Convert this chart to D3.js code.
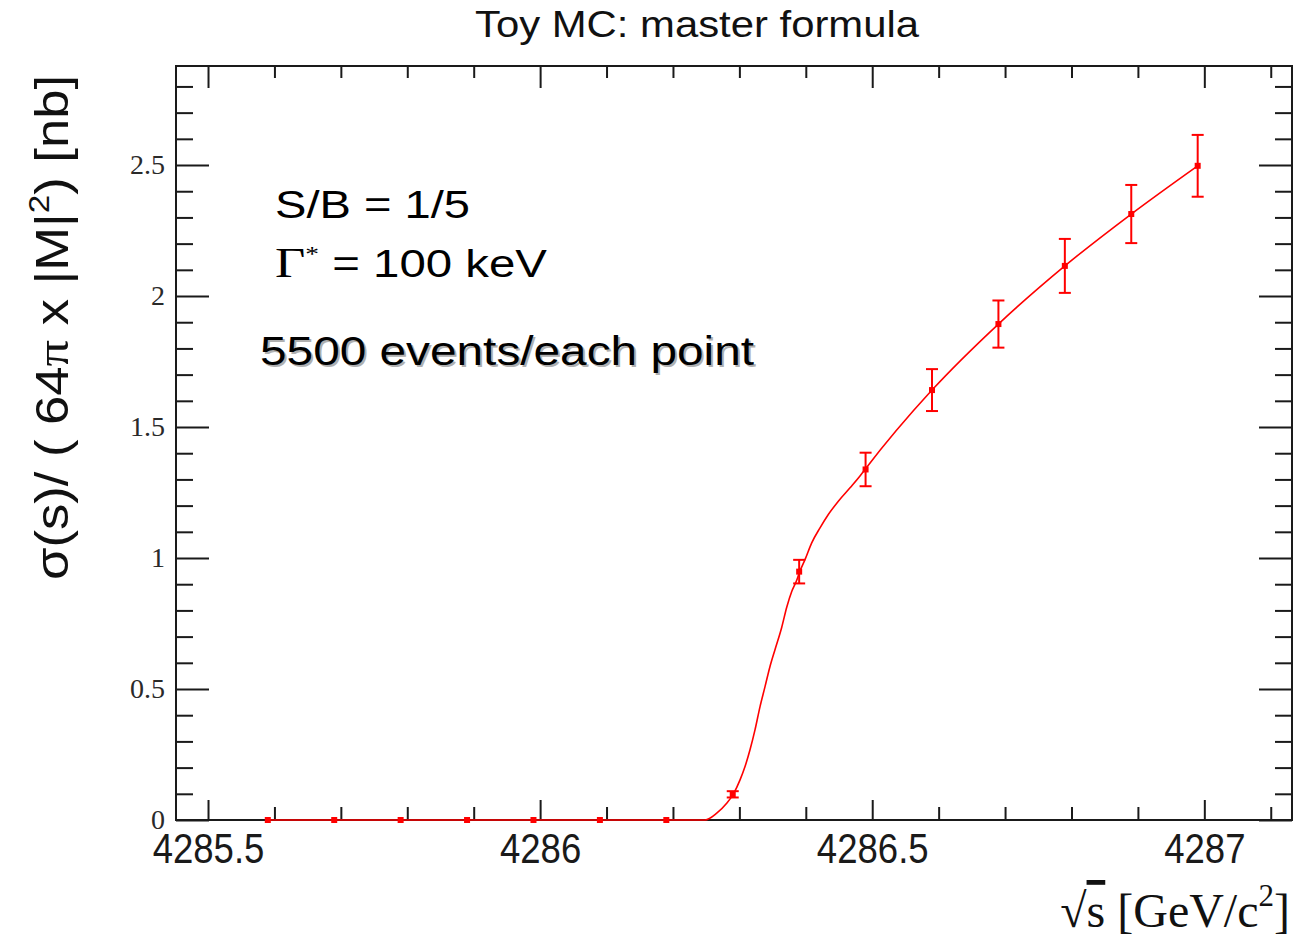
<!DOCTYPE html>
<html><head><meta charset="utf-8">
<script src="https://cdn.jsdelivr.net/npm/d3@7"></script>
<style>body{margin:0;background:#fff}</style>
</head><body>
<svg id="c" width="1297" height="939"></svg>
<script>
// ---- data ----
const energies = [4285.59, 4285.69, 4285.79, 4285.89, 4285.99, 4286.09, 4286.19, 4286.29, 4286.39, 4286.49, 4286.59, 4286.69, 4286.79, 4286.89, 4286.99];
const sigma    = [0, 0, 0, 0, 0, 0, 0, 0.098, 0.948, 1.338, 1.641, 1.893, 2.115, 2.313, 2.497];
const sigmaErr = [0, 0, 0, 0, 0, 0, 0, 0.012, 0.045, 0.064, 0.080, 0.090, 0.103, 0.111, 0.118];
// model curve
const curveE = [4285.59, 4286.215, 4286.2483, 4286.2659, 4286.2809, 4286.2909, 4286.3010, 4286.3085, 4286.3160, 4286.3235, 4286.3311, 4286.3386, 4286.3461, 4286.3536, 4286.3637, 4286.3713, 4286.3788, 4286.3863, 4286.3902, 4286.3988, 4286.4089, 4286.4214, 4286.4339, 4286.4490, 4286.4666, 4286.4816, 4286.4891, 4286.59, 4286.69, 4286.79, 4286.89, 4286.99];
const curveS = [0, 0, 0, 0.026, 0.064, 0.099, 0.153, 0.204, 0.268, 0.344, 0.433, 0.509, 0.586, 0.650, 0.735, 0.812, 0.872, 0.915, 0.944, 0.994, 1.058, 1.115, 1.166, 1.217, 1.268, 1.313, 1.338, 1.641, 1.893, 2.115, 2.313, 2.497];
const xMajorTicks = [4285.5, 4286, 4286.5, 4287];
const xTickLabels = ["4285.5", "4286", "4286.5", "4287"];
const xMinorTicks = [4285.6,4285.7,4285.8,4285.9,4286.1,4286.2,4286.3,4286.4,4286.6,4286.7,4286.8,4286.9,4287.1];
const yMajorTicks = [0, 0.5, 1, 1.5, 2, 2.5];
const yTickLabels = ["0", "0.5", "1", "1.5", "2", "2.5"];
const yMinorTicks = [0.1,0.2,0.3,0.4,0.6,0.7,0.8,0.9,1.1,1.2,1.3,1.4,1.6,1.7,1.8,1.9,2.1,2.2,2.3,2.4,2.6,2.7,2.8];
const xDomain = [4285.4518, 4287.132];
const yDomain = [0, 2.878];

// ---- layout ----
const L = 176, R = 1292, T = 66, B = 820;
const svg = d3.select("#c");
const x = d3.scaleLinear().domain(xDomain).range([L, R]);
const y = d3.scaleLinear().domain(yDomain).range([B, T]);
const axisColor = "#1a1a1a";

function styleAxis(g){
  g.select(".domain").remove();
  g.selectAll("line").attr("stroke", axisColor).attr("stroke-width", 2);
}
// bottom
svg.append("g").attr("transform",`translate(0,${B})`)
  .call(d3.axisBottom(x).tickValues(xMajorTicks).tickSize(-20).tickFormat((d,i)=>xTickLabels[i]).tickPadding(0))
  .call(styleAxis)
  .call(g=>g.selectAll("text").attr("font-family","'Liberation Sans',Arial,sans-serif").attr("font-size",42)
     .attr("fill","#1a1a1a").attr("dy",null).attr("y",0).attr("transform","translate(0,43) scale(0.87,1)"));
svg.append("g").attr("transform",`translate(0,${B})`)
  .call(d3.axisBottom(x).tickValues(xMinorTicks).tickSize(-13).tickFormat(""))
  .call(styleAxis);
// top
svg.append("g").attr("transform",`translate(0,${T})`)
  .call(d3.axisTop(x).tickValues(xMajorTicks).tickSize(-22).tickFormat(""))
  .call(styleAxis);
svg.append("g").attr("transform",`translate(0,${T})`)
  .call(d3.axisTop(x).tickValues(xMinorTicks).tickSize(-12).tickFormat(""))
  .call(styleAxis);
// left
svg.append("g").attr("transform",`translate(${L},0)`)
  .call(d3.axisLeft(y).tickValues(yMajorTicks).tickSize(-33).tickFormat((d,i)=>yTickLabels[i]).tickPadding(0))
  .call(styleAxis)
  .call(g=>g.selectAll("text").attr("font-family","'Liberation Serif','Times New Roman',serif").attr("font-size",28).attr("fill","#2a2a2a").attr("x",-11).attr("dy","0.3em"));
svg.append("g").attr("transform",`translate(${L},0)`)
  .call(d3.axisLeft(y).tickValues(yMinorTicks).tickSize(-17).tickFormat(""))
  .call(styleAxis);
// right
svg.append("g").attr("transform",`translate(${R},0)`)
  .call(d3.axisRight(y).tickValues(yMajorTicks).tickSize(-33).tickFormat(""))
  .call(styleAxis);
svg.append("g").attr("transform",`translate(${R},0)`)
  .call(d3.axisRight(y).tickValues(yMinorTicks).tickSize(-17).tickFormat(""))
  .call(styleAxis);
// frame
svg.append("rect").attr("x",L).attr("y",T).attr("width",R-L).attr("height",B-T)
  .attr("fill","none").attr("stroke",axisColor).attr("stroke-width",2);

// ---- curve ----
svg.append("clipPath").attr("id","clip").append("rect").attr("x",L).attr("y",T).attr("width",R-L).attr("height",B-T+2);
const curvePts = curveE.map((e,i)=>[e, curveS[i]]);
svg.append("path").datum(curvePts)
  .attr("clip-path","url(#clip)")
  .attr("fill","none").attr("stroke","#ff0000").attr("stroke-width",1.6)
  .attr("d", d3.line().x(d=>x(d[0])).y(d=>y(d[1])).curve(d3.curveMonotoneX));

// ---- points with error bars ----
const pts = energies.map((e,i)=>({e, s:sigma[i], err:sigmaErr[i]}));
const gp = svg.append("g").attr("stroke","#ff0000").attr("fill","#ff0000");
gp.selectAll("line.err").data(pts.filter(d=>d.err>0)).join("line").attr("class","err")
  .attr("x1",d=>x(d.e)).attr("x2",d=>x(d.e)).attr("y1",d=>y(d.s-d.err)).attr("y2",d=>y(d.s+d.err)).attr("stroke-width",2);
const capW = 6;
gp.selectAll("line.capT").data(pts.filter(d=>d.err>0)).join("line").attr("class","capT")
  .attr("x1",d=>x(d.e)-capW).attr("x2",d=>x(d.e)+capW).attr("y1",d=>y(d.s+d.err)).attr("y2",d=>y(d.s+d.err)).attr("stroke-width",2);
gp.selectAll("line.capB").data(pts.filter(d=>d.err>0)).join("line").attr("class","capB")
  .attr("x1",d=>x(d.e)-capW).attr("x2",d=>x(d.e)+capW).attr("y1",d=>y(d.s-d.err)).attr("y2",d=>y(d.s-d.err)).attr("stroke-width",2);
gp.selectAll("rect.pt").data(pts).join("rect").attr("class","pt")
  .attr("x",d=>x(d.e)-3).attr("y",d=>y(d.s)-3).attr("width",6).attr("height",6).attr("stroke","none");

// ---- texts ----
const sans = "'Liberation Sans',Arial,Helvetica,sans-serif";
const serif = "'Liberation Serif','Times New Roman',serif";
svg.append("text").attr("x",475).attr("y",37).attr("font-family",sans).attr("font-size",36)
  .attr("textLength",444).attr("lengthAdjust","spacingAndGlyphs").attr("fill","#111").text("Toy MC: master formula");

svg.append("text").attr("x",275).attr("y",218).attr("font-family",sans).attr("font-size",38)
  .attr("textLength",195).attr("lengthAdjust","spacingAndGlyphs").attr("fill","#000").text("S/B = 1/5");

const g2 = svg.append("text").attr("x",275).attr("y",277).attr("font-family",sans).attr("font-size",38)
  .attr("textLength",272).attr("lengthAdjust","spacingAndGlyphs").attr("fill","#000");
g2.append("tspan").attr("font-family",serif).attr("font-size",42).text("Γ");
g2.append("tspan").attr("font-family",serif).attr("font-size",22).attr("dy",-16).text("*");
g2.append("tspan").attr("dy",16).text(" = 100 keV");

// shadowed text
svg.append("text").attr("x",262).attr("y",367).attr("font-family",sans).attr("font-size",40)
  .attr("textLength",494).attr("lengthAdjust","spacingAndGlyphs").attr("fill","#b0b0b0").text("5500 events/each point");
svg.append("text").attr("x",260).attr("y",365).attr("font-family",sans).attr("font-size",40)
  .attr("textLength",494).attr("lengthAdjust","spacingAndGlyphs").attr("fill","#000").text("5500 events/each point");

// y title
const yt = svg.append("text").attr("transform","translate(68,580) rotate(-90)")
  .attr("font-family",sans).attr("font-size",46).attr("fill","#111")
  .attr("textLength",505).attr("lengthAdjust","spacingAndGlyphs");
yt.append("tspan").text("σ(s)/ ( 64");
yt.append("tspan").attr("font-family",serif).text("π");
yt.append("tspan").text(" x |M|");
yt.append("tspan").attr("font-size",29).attr("dy",-19).text("2");
yt.append("tspan").attr("dy",19).text(") [nb]");

// x title
const xt = svg.append("text").attr("x",1290).attr("y",927).attr("text-anchor","end")
  .attr("font-family",serif).attr("font-size",48).attr("fill","#111");
xt.append("tspan").text("√");
xt.append("tspan").attr("text-decoration","overline").text("s");
xt.append("tspan").text(" [GeV/c");
xt.append("tspan").attr("font-size",31).attr("dy",-21).text("2");
xt.append("tspan").attr("dy",21).text("]");
</script>
</body></html>
